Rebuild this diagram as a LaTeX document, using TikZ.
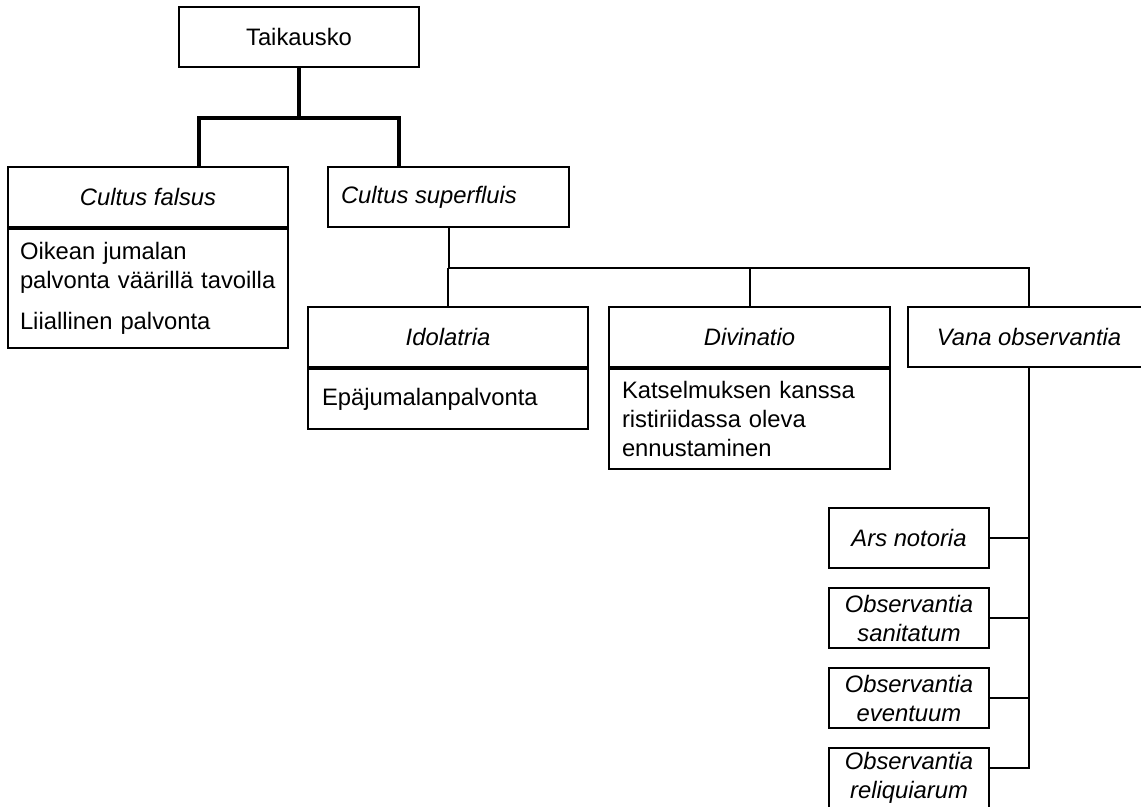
\documentclass[tikz,border=0pt]{standalone}
\usepackage{fontspec}
\setmainfont{Liberation Sans}
\usetikzlibrary{positioning,calc}

\tikzset{
  box/.style={draw, line width=1pt, inner sep=0pt, minimum height=30pt, align=center,
    font=\fontsize{11.9}{14.5}\selectfont},
  lat/.style={box, font=\fontsize{11.9}{14.5}\selectfont\itshape},
  textbox/.style={box, align=left, inner xsep=7pt},
  link/.style={line width=1pt},
  trunk/.style={line width=2.2pt},
}

\begin{document}
\begin{tikzpicture}[x=0.5pt, y=-0.5pt]
  \useasboundingbox (0,0) rectangle (1141,807);

  % Nodes
  \node[box, minimum width=120pt] (taik) at (299,37) {Taikausko};

  \node[lat, minimum width=140pt] (falsush) at (148,197) {Cultus falsus};
  \node[textbox, text width=128pt, inner xsep=6pt, minimum height=59.5pt, below=0pt of falsush] (falsusb)
    {Oikean jumalan\\ palvonta väärillä tavoilla\\[6pt] Liiallinen palvonta};

  \node[lat, inner xsep=6.5pt] (superh) at (448.5,197) {\makebox[107.5pt][l]{Cultus superfluis}};

  \node[lat, minimum width=140pt] (idolh) at (448,337.5) {Idolatria};
  \node[textbox, text width=126pt, below=0pt of idolh] (idolb) {Epäjumalanpalvonta};

  \node[lat, minimum width=140.5pt] (divinh) at (749.5,337) {Divinatio};
  \node[textbox, text width=127.5pt, inner xsep=6.5pt, minimum height=50pt, below=0pt of divinh] (divinb)
    {Katselmuksen kanssa\\ ristiriidassa oleva\\ ennustaminen};

  \node[lat, minimum width=121pt] (vana) at (1029,337) {Vana observantia};

  \foreach \i/\txt in {1/Ars notoria, 2/Observantia\\sanitatum, 3/Observantia\\eventuum, 4/Observantia\\reliquiarum}
    \node[lat, minimum width=80pt] (obs\i) at (909,{458+80*\i}) {\txt};

  % Connectors
  \coordinate (fork) at ($(taik.south)+(0,50)$);
  \coordinate (forkl) at ($(fork)+(-100,0)$);
  \coordinate (forkr) at ($(fork)+(100,0)$);
  \draw[trunk] (taik.south) -- (fork);
  \draw[trunk] (falsush.north -| forkl) -- (forkl) -- (forkr) -- (superh.north -| forkr);

  \coordinate (bus) at ($(superh.south)+(0,40)$);
  \draw[link] (superh.south) -- (bus) -- (bus -| vana.north) -- (vana.north);
  \foreach \n in {idolh, divinh}
    \draw[link] (bus -| \n.north) -- (\n.north);

  \draw[link] (vana.south) |- ([yshift=5pt]obs4.east);
  \foreach \i in {1,2,3}
    \draw[link] (obs\i.east) -- (obs\i.east -| vana.south);

\end{tikzpicture}
\end{document}
